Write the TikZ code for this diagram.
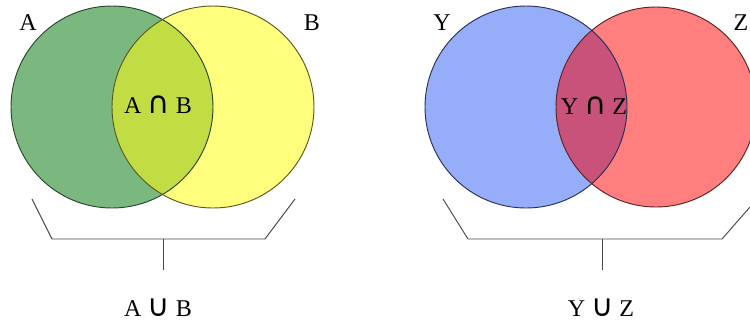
\documentclass[tikz,border=0pt]{standalone}
\usepackage{fontspec}
\setmainfont{Liberation Serif}
\newfontfamily\opsfont{DejaVu Sans}
\usetikzlibrary{positioning}
\definecolor{setgreen}{RGB}{122,184,128}
\definecolor{setyellow}{RGB}{255,255,125}
\definecolor{capab}{RGB}{194,220,68}
\definecolor{setblue}{RGB}{150,174,250}
\definecolor{setred}{RGB}{255,126,126}
\definecolor{capyz}{RGB}{200,82,122}
\definecolor{greenrim}{RGB}{38,72,42}
\definecolor{yellowrim}{RGB}{88,88,30}
\definecolor{bluerim}{RGB}{40,48,90}
\definecolor{redrim}{RGB}{92,34,36}
\definecolor{bracegray}{RGB}{70,70,70}
\newcommand{\opcap}{\hspace{0.25em}{\opsfont\fontsize{26}{28}\selectfont ∩}\hspace{0.25em}}
\newcommand{\opcup}{\hspace{0.25em}{\opsfont\fontsize{26}{28}\selectfont ∪}\hspace{0.25em}}
\tikzset{
    lbl/.style={font=\fontsize{20.5}{24}\selectfont, inner sep=0pt},
    rim/.style={line width=0.8pt},
    brace/.style={draw=bracegray, line width=0.8pt}
}

\begin{document}
\begin{tikzpicture}[x=0.03cm,y=-0.03cm]
\useasboundingbox (0,0) rectangle (750,323);
% A and B
\fill[setgreen] (112,107) circle (101);
\fill[setyellow] (213,107) circle (101);
\begin{scope}
\clip (112,107) circle (101);
\fill[capab] (213,107) circle (101);
\end{scope}
\draw[rim, draw=greenrim] (112,107) circle (101);
\draw[rim, draw=yellowrim] (213,107) circle (101);
\node[lbl] (labA) at (28,23) {A};
\node[lbl] (labB) at (312,23) {B};
\node[lbl] (capAB) at (158,105) {A\opcap B};
\coordinate (abL) at (32,199);
\coordinate (abBL) at (52,239);
\coordinate (abM) at (163,239);
\coordinate (abBR) at (265,239);
\coordinate (abR) at (295,199);
\coordinate (abStem) at (163,270);
\draw[brace] (abL) -- (abBL) -- (abBR) -- (abR);
\draw[brace] (abM) -- (abStem);
\node[lbl] (cupAB) at (158,308) {A\opcup B};
% Y and Z
\fill[setblue] (526,107) circle (101);
\fill[setred] (656,107) circle (100);
\begin{scope}
\clip (526,107) circle (101);
\fill[capyz] (656,107) circle (100);
\end{scope}
\draw[rim, draw=bluerim] (526,107) circle (101);
\draw[rim, draw=redrim] (656,107) circle (100);
\node[lbl] (labY) at (442,23) {Y};
\node[lbl] (labZ) at (741,23) {Z};
\node[lbl] (capYZ) at (594,106) {Y\opcap Z};
\coordinate (yzL) at (443,199);
\coordinate (yzBL) at (468,239);
\coordinate (yzM) at (602,239);
\coordinate (yzBR) at (722,239);
\coordinate (yzR) at (757,199);
\coordinate (yzStem) at (602,270);
\draw[brace] (yzL) -- (yzBL) -- (yzBR) -- (yzR);
\draw[brace] (yzM) -- (yzStem);
\node[lbl] (cupYZ) at (601,308) {Y\opcup Z};
\end{tikzpicture}
\end{document}
